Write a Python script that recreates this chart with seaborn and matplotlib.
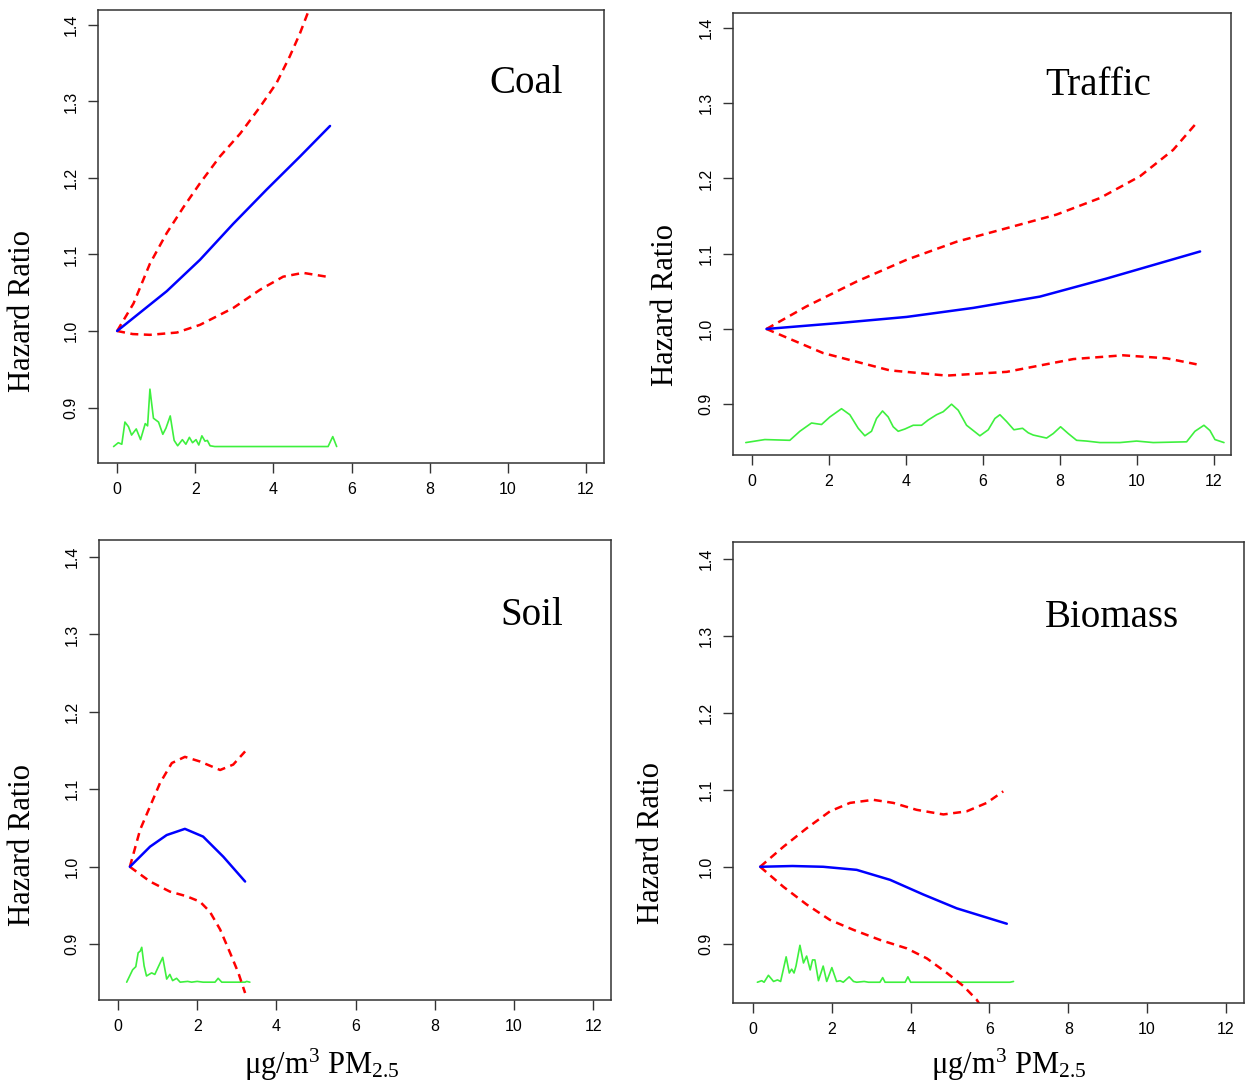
import numpy as np
import pandas as pd
import seaborn as sns
import matplotlib.pyplot as plt

# Curvas (x en ug/m3, y = hazard ratio)
coal_x_fit = [0, 1.27, 2.12, 2.97, 3.83, 4.68, 5.45]
coal_fit = [1.0, 1.052, 1.093, 1.140, 1.185, 1.228, 1.268]
coal_x_up = [0, 0.42, 0.84, 1.27, 1.70, 2.12, 2.63, 3.15, 3.66, 4.08, 4.42, 4.68, 4.89, 5.2]
coal_up = [1.0, 1.036, 1.088, 1.128, 1.162, 1.193, 1.228, 1.258, 1.293, 1.324, 1.359, 1.389,
           1.417, 1.46]
coal_x_lo = [0, 0.4, 0.84, 1.53, 2.12, 2.97, 3.66, 4.25, 4.76, 5.36]
coal_lo = [1.0, 0.996, 0.995, 0.998, 1.008, 1.030, 1.054, 1.071, 1.076, 1.071]
coal_dens_x = [-0.09, 0.03, 0.12, 0.2, 0.29, 0.37, 0.49, 0.6, 0.72, 0.78, 0.84, 0.93, 1.06,
               1.17, 1.25, 1.36, 1.46, 1.55, 1.67, 1.76, 1.85, 1.93, 2.02, 2.09, 2.17, 2.25,
               2.31, 2.38, 2.5, 5.4, 5.52, 5.62]
coal_dens = [0.849, 0.854, 0.852, 0.881, 0.875, 0.864, 0.872, 0.858, 0.879, 0.876, 0.924,
             0.886, 0.881, 0.865, 0.873, 0.889, 0.857, 0.850, 0.858, 0.852, 0.861, 0.854,
             0.858, 0.851, 0.863, 0.856, 0.857, 0.850, 0.849, 0.849, 0.862, 0.849]

traffic_x_fit = [0.38, 2.29, 4.02, 5.75, 7.48, 9.21, 11.64]
traffic_fit = [1.0, 1.008, 1.016, 1.028, 1.043, 1.067, 1.103]
traffic_x_up = [0.38, 1.42, 2.72, 4.02, 5.32, 6.62, 7.91, 9.04, 10.08, 10.94, 11.55]
traffic_up = [1.0, 1.030, 1.063, 1.092, 1.116, 1.134, 1.152, 1.174, 1.203, 1.238, 1.274]
traffic_x_lo = [0.38, 1.85, 3.58, 5.06, 6.62, 8.35, 9.64, 10.77, 11.55]
traffic_lo = [1.0, 0.968, 0.945, 0.938, 0.943, 0.960, 0.965, 0.961, 0.953]
traffic_dens_x = [-0.156, 0.338, 0.987, 1.247, 1.550, 1.810, 2.026, 2.329, 2.545, 2.762,
                  2.935, 3.108, 3.238, 3.394, 3.541, 3.671, 3.801, 3.974, 4.190, 4.407,
                  4.580, 4.797, 4.970, 5.186, 5.359, 5.576, 5.749, 5.922, 6.139, 6.312,
                  6.442, 6.615, 6.805, 7.030, 7.177, 7.307, 7.654, 7.827, 8.017, 8.216,
                  8.433, 8.693, 9.039, 9.558, 9.991, 10.424, 11.290, 11.506, 11.740, 11.896,
                  12.026, 12.260]
traffic_dens = [0.849, 0.853, 0.852, 0.864, 0.875, 0.873, 0.883, 0.894, 0.886, 0.868,
                0.858, 0.864, 0.881, 0.891, 0.883, 0.870, 0.864, 0.867, 0.872, 0.872,
                0.879, 0.886, 0.890, 0.900, 0.892, 0.872, 0.865, 0.858, 0.866, 0.881,
                0.886, 0.877, 0.866, 0.868, 0.862, 0.859, 0.855, 0.861, 0.870, 0.861,
                0.852, 0.851, 0.849, 0.849, 0.851, 0.849, 0.850, 0.864, 0.872, 0.865,
                0.853, 0.849]

soil_x_fit = [0.30, 0.81, 1.23, 1.69, 2.15, 2.66, 3.21]
soil_fit = [1.0, 1.026, 1.041, 1.049, 1.039, 1.013, 0.981]
soil_x_up = [0.30, 0.56, 0.81, 1.06, 1.36, 1.69, 2.07, 2.58, 2.91, 3.21]
soil_up = [1.0, 1.048, 1.078, 1.108, 1.134, 1.142, 1.136, 1.125, 1.132, 1.149]
soil_x_lo = [0.30, 0.81, 1.31, 1.73, 2.07, 2.32, 2.58, 2.83, 3.04, 3.21]
soil_lo = [1.0, 0.981, 0.968, 0.962, 0.955, 0.942, 0.919, 0.889, 0.863, 0.837]
soil_dens_x = [0.22, 0.37, 0.45, 0.51, 0.56, 0.60, 0.66, 0.72, 0.85, 0.93, 1.02, 1.13, 1.23,
               1.31, 1.38, 1.48, 1.57, 1.76, 1.86, 2.0, 2.15, 2.45, 2.53, 2.62, 3.21, 3.25, 3.33]
soil_dens = [0.851, 0.867, 0.871, 0.889, 0.891, 0.896, 0.872, 0.859, 0.863, 0.861, 0.871,
             0.883, 0.855, 0.861, 0.853, 0.856, 0.851, 0.852, 0.851, 0.852, 0.851, 0.851,
             0.856, 0.851, 0.851, 0.852, 0.851]

biomass_x_fit = [0.18, 1.0, 1.78, 2.63, 3.48, 4.32, 5.17, 6.44]
biomass_fit = [1.0, 1.001, 1.0, 0.996, 0.983, 0.964, 0.946, 0.926]
biomass_x_up = [0.18, 0.77, 1.36, 1.95, 2.46, 3.05, 3.56, 4.15, 4.83, 5.42, 5.93, 6.35]
biomass_up = [1.0, 1.026, 1.050, 1.072, 1.083, 1.087, 1.083, 1.074, 1.068, 1.072, 1.083, 1.098]
biomass_x_lo = [0.18, 0.77, 1.36, 1.95, 2.55, 3.22, 3.90, 4.41, 4.92, 5.34, 5.68, 6.0]
biomass_lo = [1.0, 0.974, 0.951, 0.931, 0.918, 0.905, 0.894, 0.881, 0.862, 0.845, 0.827, 0.80]
biomass_dens_x = [0.11, 0.22, 0.28, 0.39, 0.52, 0.62, 0.70, 0.84, 0.92, 0.98, 1.04, 1.09,
                  1.19, 1.28, 1.36, 1.45, 1.51, 1.57, 1.66, 1.78, 1.87, 2.0, 2.12, 2.21, 2.29,
                  2.44, 2.55, 2.63, 2.82, 2.93, 3.22, 3.29, 3.35, 3.86, 3.93, 4.0, 6.52, 6.61]
biomass_dens = [0.850, 0.852, 0.850, 0.859, 0.851, 0.853, 0.851, 0.883, 0.862, 0.867, 0.862,
                0.871, 0.898, 0.875, 0.884, 0.866, 0.879, 0.879, 0.852, 0.871, 0.851, 0.869,
                0.851, 0.852, 0.850, 0.857, 0.851, 0.850, 0.851, 0.850, 0.850, 0.856, 0.850,
                0.850, 0.857, 0.850, 0.850, 0.851]

x_ticks = [0, 2, 4, 6, 8, 10, 12]
y_ticks = [0.9, 1.0, 1.1, 1.2, 1.3, 1.4]

sns.set_style("ticks")
plt.rcParams['font.family'] = ['Liberation Sans', 'DejaVu Sans']
plt.rcParams['text.color'] = 'black'
plt.rcParams['mathtext.fontset'] = 'custom'
plt.rcParams['mathtext.rm'] = 'Liberation Serif'
plt.rcParams['mathtext.it'] = 'Liberation Serif:italic'

fig = plt.figure(figsize=(12.48, 10.82), dpi=100)

panels = [
    # nombre, rect, xlim, ylim, pos titulo, datos
    ("Coal", [0.0785, 0.5721, 0.4054, 0.4187], (-0.49, 12.46), (0.8275, 1.4196), 10.46,
     (coal_x_fit, coal_fit, coal_x_up, coal_up, coal_x_lo, coal_lo, coal_dens_x, coal_dens)),
    ("Traffic", [0.5873, 0.5795, 0.3990, 0.4085], (-0.49, 12.44), (0.8325, 1.42), 9.0,
     (traffic_x_fit, traffic_fit, traffic_x_up, traffic_up, traffic_x_lo, traffic_lo,
      traffic_dens_x, traffic_dens)),
    ("Soil", [0.0793, 0.0758, 0.4103, 0.4251], (-0.48, 12.45), (0.828, 1.422), 10.45,
     (soil_x_fit, soil_fit, soil_x_up, soil_up, soil_x_lo, soil_lo, soil_dens_x, soil_dens)),
    ("Biomass", [0.5873, 0.0730, 0.4095, 0.4261], (-0.51, 12.46), (0.823, 1.422), 9.1,
     (biomass_x_fit, biomass_fit, biomass_x_up, biomass_up, biomass_x_lo, biomass_lo,
      biomass_dens_x, biomass_dens)),
]

for name, rect, xlim, ylim, tx, d in panels:
    ax = fig.add_axes(rect)
    xf, yf, xu, yu, xl, yl, xd, yd = d
    sns.lineplot(x=xd, y=yd, ax=ax, color="#3ef03e", lw=1.2, sort=False)
    for xx, yy in [(xu, yu), (xl, yl)]:
        sns.lineplot(x=xx, y=yy, ax=ax, color="#ff0000", lw=1.8, sort=False)
        ax.lines[-1].set_dashes((3.2, 2.2))
    sns.lineplot(x=xf, y=yf, ax=ax, color="#0000ff", lw=1.8, sort=False)
    ax.set_xlim(*xlim)
    ax.set_ylim(*ylim)
    ax.set_xticks(x_ticks)
    ax.set_yticks(y_ticks)
    ax.set_yticklabels([f"{v:.1f}" for v in y_ticks], rotation=90, va="center")
    ax.tick_params(axis="both", labelsize=11.5, length=7, width=1, pad=7,
                   colors="#333333", labelcolor="black")
    for s in ax.spines.values():
        s.set_visible(True)
        s.set_color("#333333")
        s.set_linewidth(1.1)
    ax.set_xlabel("")
    ax.set_ylabel("")
    ax.text(tx, 1.324, name, family="Liberation Serif", fontsize=28,
            ha="center", va="center", color="black")

# Etiquetas de ejes
for x, y in [(0.018, 0.713), (0.533, 0.718), (0.018, 0.219), (0.522, 0.221)]:
    fig.text(x, y, "Hazard Ratio", family="Liberation Serif", fontsize=22,
             rotation=90, ha="center", va="center")
for x in [0.258, 0.808]:
    fig.text(x, 0.016, "μg/m$^3$ PM$_{2.5}$", family="Liberation Serif", fontsize=22,
             ha="center", va="center")

plt.savefig("out.png", dpi=100)
